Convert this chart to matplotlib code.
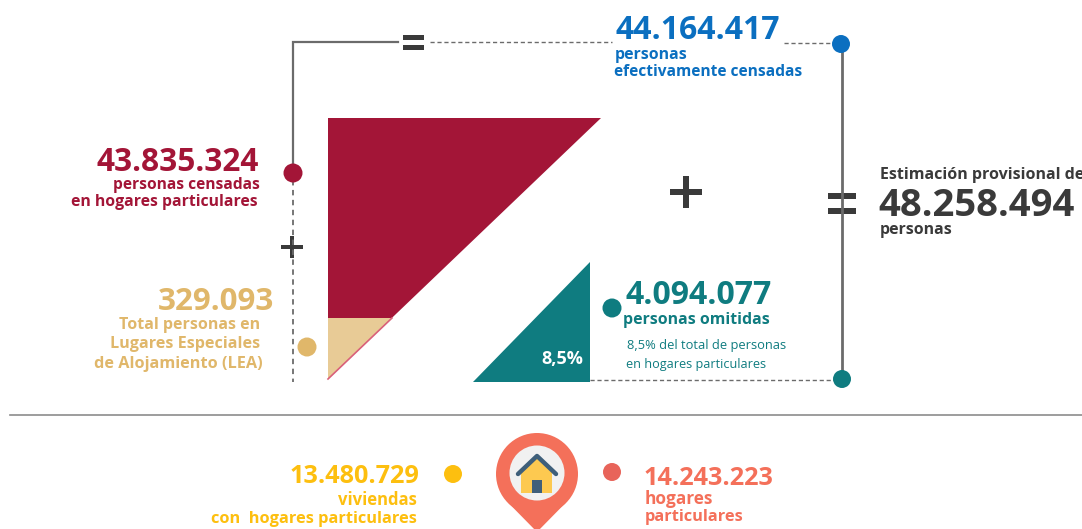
import matplotlib
matplotlib.use("Agg")
import matplotlib.pyplot as plt
from matplotlib.patches import Circle, Polygon, Rectangle

plt.rcParams["font.family"] = ["Open Sans", "DejaVu Sans"]

# figures from the picture
censadas_total = "44.164.417"
censadas_hogares = "43.835.324"
lea_total = "329.093"
omitidas = "4.094.077"
omitidas_pct = "8,5%"
estimacion = "48.258.494"
viviendas = "13.480.729"
hogares = "14.243.223"

RED = "#a31537"
TAN = "#e8cb96"
TAN_DARK = "#e0b76a"
TEAL = "#0f7c80"
BLUE = "#0b6fc0"
DARK = "#3a3a3a"
YELLOW = "#fdbf0f"
CORAL = "#f4705a"
GREY = "#6b6b6b"


def label(ax, x, y, s, color, size, ha="left", weight="bold"):
    ax.text(x, y, s, color=color, fontsize=size, ha=ha, va="baseline", fontweight=weight)


def dot(ax, x, y, r, color):
    ax.add_patch(Circle((x, y), r, color=color, lw=0, zorder=4))


fig = plt.figure(figsize=(10.82, 5.29), dpi=100)
ax = fig.add_axes([0, 0, 1, 1])
ax.set_xlim(0, 1082)
ax.set_ylim(529, 0)
ax.axis("off")

# connector lines
ax.plot([293, 293, 398], [172, 42, 42], color=GREY, lw=1.6, solid_joinstyle="miter")
ax.plot([430, 612], [42, 42], color=GREY, lw=1, ls=(0, (3, 2)))
ax.plot([784, 842], [43, 43], color=GREY, lw=1, ls=(0, (3, 2)))
ax.plot([842, 842], [43, 379], color=GREY, lw=2)
ax.plot([590, 842], [380, 380], color=GREY, lw=1, ls=(0, (3, 2)))
ax.plot([293, 293], [180, 382], color=GREY, lw=1.3, ls=(0, (3, 2.5)))
ax.plot([10, 1082], [414.5, 414.5], color="#8c8c8c", lw=1.2)

# triangles
ax.add_patch(Polygon([(328, 118), (601, 118), (328, 379)], color=RED, lw=0))
ax.add_patch(Polygon([(328, 318), (392, 318), (328, 379)], color=TAN, lw=0))
ax.plot([392, 328], [318, 379], color="#d9607a", lw=1.2)
ax.add_patch(Polygon([(590, 262), (590, 382), (473, 382)], color=TEAL, lw=0))

# operators
for x0, x1, y0, h in [(403, 424, 35, 5), (403, 424, 45, 5), (828, 856, 193, 6), (828, 856, 208, 6)]:
    ax.add_patch(Rectangle((x0, y0), x1 - x0, h, color=DARK, lw=0))
for cx, cy, half, t in [(292, 247, 11, 4), (686, 192, 16, 6)]:
    ax.add_patch(Rectangle((cx - half, cy - t / 2), 2 * half, t, color=DARK, lw=0))
    ax.add_patch(Rectangle((cx - t / 2, cy - half), t, 2 * half, color=DARK, lw=0))

# dots
dot(ax, 841, 44, 9, BLUE)
dot(ax, 293, 173, 9.5, RED)
dot(ax, 307, 347, 9.5, TAN_DARK)
dot(ax, 612, 308, 9.5, TEAL)
dot(ax, 842, 379, 9, TEAL)
dot(ax, 453, 474, 9, YELLOW)
dot(ax, 612, 472, 9, "#e8645a")

# top
label(ax, 616, 39, censadas_total, BLUE, 23)
label(ax, 615, 59, "personas", BLUE, 11.4)
label(ax, 614, 76, "efectivamente censadas", BLUE, 11.2)

# left
label(ax, 259, 171, censadas_hogares, RED, 22.8, ha="right")
label(ax, 260, 189, "personas censadas", RED, 11.2, ha="right")
label(ax, 258, 206, "en hogares particulares", RED, 11.3, ha="right")
label(ax, 274, 310, lea_total, TAN_DARK, 22.6, ha="right")
label(ax, 260, 329, "Total personas en", TAN_DARK, 11.5, ha="right")
label(ax, 260, 348, "Lugares Especiales", TAN_DARK, 11.6, ha="right")
label(ax, 263, 368, "de Alojamiento (LEA)", TAN_DARK, 11.7, ha="right")

# omitted
label(ax, 626, 304, omitidas, TEAL, 23)
label(ax, 623, 324, "personas omitidas", TEAL, 11.4)
label(ax, 627, 349, "8,5% del total de personas", TEAL, 9.3, weight="normal")
label(ax, 626, 368, "en hogares particulares", TEAL, 9.1, weight="normal")
label(ax, 541, 364, omitidas_pct, "white", 13)

# right
label(ax, 880, 179, "Estimación provisional de", DARK, 11.5)
label(ax, 878, 216, estimacion, DARK, 27.5)
label(ax, 880, 234, "personas", DARK, 11.4)

# bottom
label(ax, 419, 483, viviendas, YELLOW, 18.2, ha="right")
label(ax, 417, 505, "viviendas", YELLOW, 12, ha="right")
label(ax, 417, 523, "con  hogares particulares", YELLOW, 11.8, ha="right")
label(ax, 644, 485, hogares, CORAL, 18.2)
label(ax, 645, 504, "hogares", CORAL, 12.4)
label(ax, 645, 521, "particulares", CORAL, 11.8)

# map pin with house
ax.add_patch(Polygon([(508.5, 503), (537, 532), (565.5, 503)], color=CORAL, lw=0, zorder=3))
ax.add_patch(Circle((537, 474), 41, color=CORAL, lw=0, zorder=3))
ax.add_patch(Circle((537, 473), 27.5, color="#f1f1f1", lw=0, zorder=4))
ax.add_patch(Polygon([(521, 472), (537, 458), (552, 472), (552, 493), (521, 493)],
                     color="#fdc950", lw=0, zorder=5))
ax.plot([518, 537, 556], [474, 456, 474], color="#3f5f7a", lw=3.2,
        solid_capstyle="round", solid_joinstyle="round", zorder=6)
ax.add_patch(Rectangle((532, 480), 10, 13, color="#3f5f7a", lw=0, zorder=6))

fig.savefig("out.png", dpi=100)
